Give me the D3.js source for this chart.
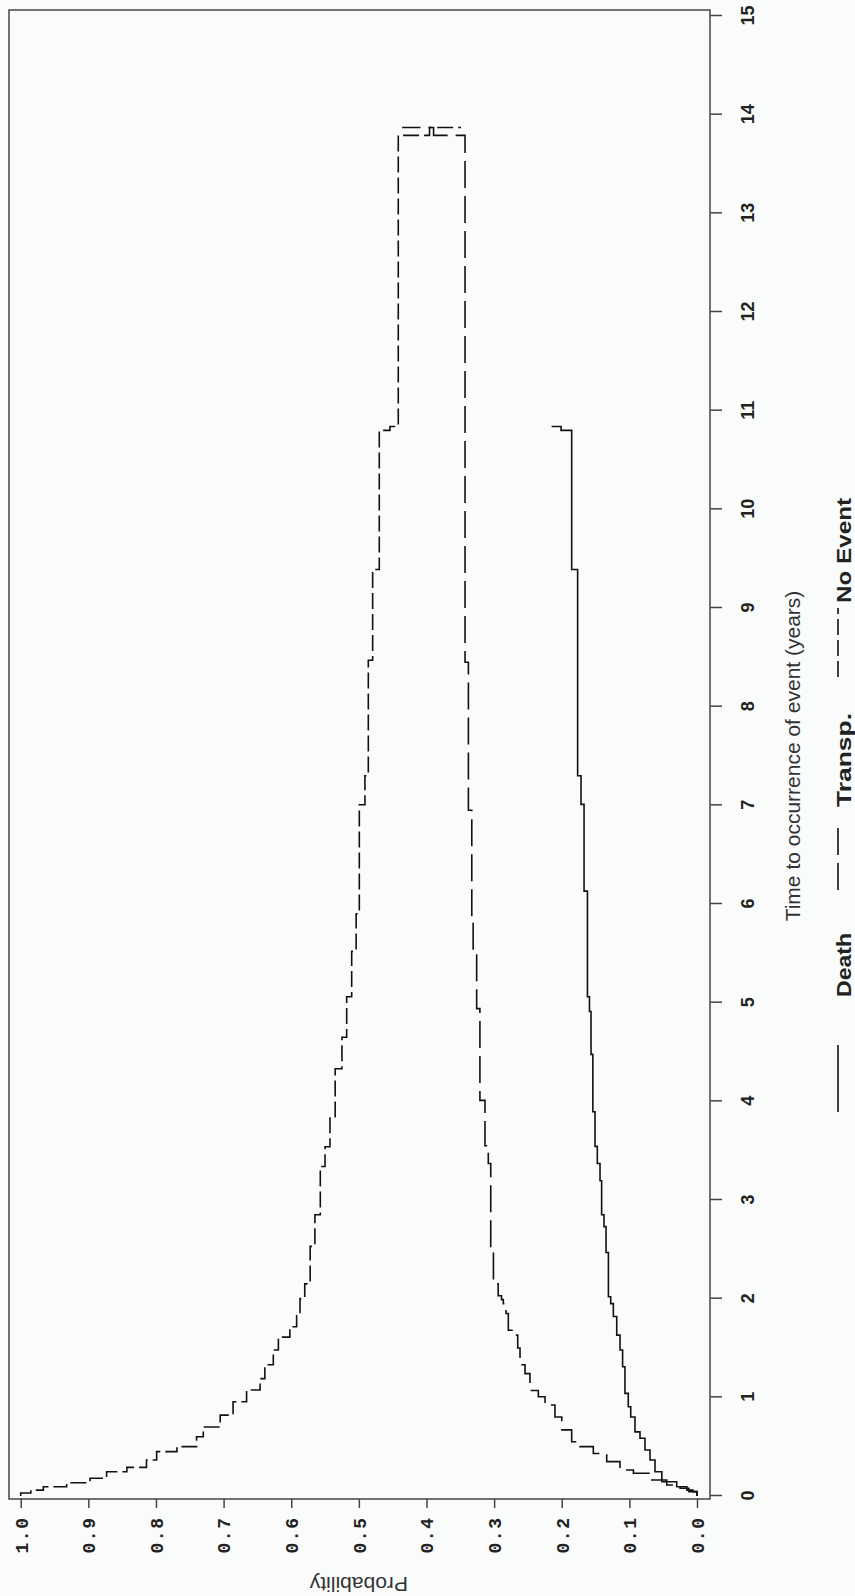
<!DOCTYPE html>
<html>
<head>
<meta charset="utf-8">
<script src="https://cdn.jsdelivr.net/npm/d3@7/dist/d3.min.js"></script>
<style>
body { margin: 0; background: #f9fcfa; }
svg { display: block; }
</style>
</head>
<body>
<svg id="chart" width="855" height="1596"></svg>
<script>
// tick labels
var timeTicks = [0, 1, 2, 3, 4, 5, 6, 7, 8, 9, 10, 11, 12, 13, 14, 15];
var probTicks = [0.0, 0.1, 0.2, 0.3, 0.4, 0.5, 0.6, 0.7, 0.8, 0.9, 1.0];
var seriesNames = ["Death", "Transp.", "No Event"];

// step curves: time of step, value after the step
var deathTime = [0, 0.044, 0.06, 0.094, 0.145, 0.246, 0.365, 0.466, 0.585, 0.65, 0.80, 0.905, 1.04, 1.31, 1.48, 1.63, 1.82, 1.95, 2.02, 2.468, 2.73, 2.85, 3.195, 3.37, 3.544, 3.894, 4.476, 4.91, 5.06, 6.13, 7.01, 7.30, 9.39, 10.80, 10.84];
var deathProb = [0, 0.006, 0.015, 0.030, 0.052, 0.0621, 0.0695, 0.0769, 0.0843, 0.0917, 0.098, 0.1016, 0.1065, 0.110, 0.1138, 0.1187, 0.1237, 0.1276, 0.131, 0.1345, 0.1375, 0.141, 0.1434, 0.1474, 0.1508, 0.154, 0.1567, 0.159, 0.162, 0.167, 0.1715, 0.1765, 0.1853, 0.201, 0.215];

var transpTime = [0, 0.044, 0.078, 0.111, 0.162, 0.23, 0.264, 0.348, 0.43, 0.50, 0.55, 0.67, 0.80, 0.922, 1.006, 1.07, 1.24, 1.33, 1.50, 1.63, 1.68, 1.85, 1.95, 1.99, 2.03, 2.15, 2.50, 3.37, 3.55, 4.01, 4.94, 5.52, 5.87, 6.95, 8.45, 13.79, 13.87];
var transpProb = [0, 0.012, 0.025, 0.0448, 0.0695, 0.094, 0.1139, 0.1335, 0.1533, 0.173, 0.1853, 0.20, 0.21, 0.2247, 0.2346, 0.247, 0.2543, 0.2617, 0.2651, 0.2716, 0.279, 0.2824, 0.2864, 0.289, 0.294, 0.301, 0.305, 0.3086, 0.3135, 0.321, 0.3258, 0.331, 0.333, 0.338, 0.343, 0.3895, 0.436];

var noEventTime = [0, 0.03, 0.06, 0.094, 0.135, 0.18, 0.246, 0.29, 0.365, 0.45, 0.50, 0.60, 0.70, 0.82, 0.956, 1.074, 1.19, 1.33, 1.48, 1.61, 1.716, 1.85, 2.0, 2.15, 2.53, 2.85, 3.34, 3.54, 3.83, 4.33, 4.65, 5.06, 5.52, 5.90, 7.006, 7.30, 8.47, 9.39, 10.80, 10.84, 13.79, 13.87];
var noEventProb = [1.0, 0.985, 0.9665, 0.932, 0.8975, 0.873, 0.843, 0.814, 0.799, 0.769, 0.740, 0.730, 0.705, 0.686, 0.666, 0.646, 0.639, 0.6265, 0.619, 0.602, 0.592, 0.587, 0.580, 0.572, 0.565, 0.557, 0.550, 0.5427, 0.535, 0.525, 0.518, 0.5106, 0.504, 0.4993, 0.491, 0.486, 0.4796, 0.4698, 0.454, 0.4417, 0.3955, 0.349];

var svg = d3.select("#chart");
svg.append("rect").attr("width", 855).attr("height", 1596).attr("fill", "#f9fcfa");

// the plot is drawn upright and then turned a quarter turn
var g = svg.append("g").attr("transform", "translate(0,1596) rotate(-90)");

var x = d3.scaleLinear().domain([0, 15]).range([100, 1580]);
var y = d3.scaleLinear().domain([0, 1]).range([697, 20.7]);

var ink = "#222";

g.append("rect")
    .attr("x", 97).attr("y", 9)
    .attr("width", 1586 - 97).attr("height", 710 - 9)
    .attr("fill", "none").attr("stroke", "#444").attr("stroke-width", 1.5);

// time axis
var xAxis = g.append("g")
    .attr("transform", "translate(0,710)")
    .call(d3.axisBottom(x).tickValues(timeTicks).tickSize(12).tickSizeOuter(0).tickFormat(d3.format("d")));
xAxis.select(".domain").remove();
xAxis.selectAll("line").attr("stroke", "#444").attr("stroke-width", 1.5);
xAxis.selectAll("text")
    .attr("y", 44).attr("dy", 0)
    .attr("fill", ink)
    .style("font-family", "'Liberation Sans', Arial, sans-serif")
    .style("font-weight", "bold")
    .style("font-size", "18px");

// probability axis
var yAxis = g.append("g")
    .attr("transform", "translate(97,0)")
    .call(d3.axisLeft(y).tickValues(probTicks).tickSize(9).tickSizeOuter(0).tickFormat(d3.format(".1f")));
yAxis.select(".domain").remove();
yAxis.selectAll("line").attr("stroke", "#444").attr("stroke-width", 1.5);
yAxis.selectAll("text")
    .attr("x", -36).attr("dy", "0.35em")
    .attr("text-anchor", "middle")
    .attr("fill", ink)
    .style("font-family", "'Liberation Mono', monospace")
    .style("font-weight", "bold")
    .style("font-size", "18px")
    .style("letter-spacing", "1.5px");

// axis titles
g.append("text")
    .attr("x", x(7.5)).attr("y", 800)
    .attr("text-anchor", "middle")
    .attr("fill", "#333")
    .style("font-family", "'Liberation Sans', Arial, sans-serif")
    .style("font-size", "21px")
    .text("Time to occurrence of event (years)");

g.append("text")
    .attr("transform", "translate(19.5," + y(0.5) + ") rotate(-90)")
    .attr("text-anchor", "middle")
    .attr("fill", "#333")
    .style("font-family", "'Liberation Sans', Arial, sans-serif")
    .style("font-size", "21px")
    .text("Probability");

// curves
var dashes = ["none", "27,8", "16,5"];
var series = [
    { name: seriesNames[0], t: deathTime, p: deathProb },
    { name: seriesNames[1], t: transpTime, p: transpProb },
    { name: seriesNames[2], t: noEventTime, p: noEventProb }
];

var line = d3.line()
    .x(function (d) { return x(d[0]); })
    .y(function (d) { return y(d[1]); })
    .curve(d3.curveStepAfter);

series.forEach(function (s, i) {
    var pts = s.t.map(function (t, k) { return [t, s.p[k]]; });
    g.append("path")
        .datum(pts)
        .attr("d", line)
        .attr("fill", "none")
        .attr("stroke", "#111")
        .attr("stroke-width", 1.6)
        .attr("stroke-dasharray", dashes[i]);
});

// legend
var legendLines = [[484, 551], [706, 768], [919, 988]];
var legendText = [599, 789, 993];
var legendWidth = [64, 94, 105];
series.forEach(function (s, i) {
    g.append("line")
        .attr("x1", legendLines[i][0]).attr("x2", legendLines[i][1])
        .attr("y1", 838).attr("y2", 838)
        .attr("stroke", "#111").attr("stroke-width", 1.6)
        .attr("stroke-dasharray", dashes[i]);
    g.append("text")
        .attr("x", legendText[i]).attr("y", 851)
        .attr("fill", ink)
        .attr("textLength", legendWidth[i])
        .attr("lengthAdjust", "spacingAndGlyphs")
        .style("font-family", "'Liberation Sans', Arial, sans-serif")
        .style("font-weight", "bold")
        .style("font-size", "20px")
        .text(s.name);
});
</script>
</body>
</html>
